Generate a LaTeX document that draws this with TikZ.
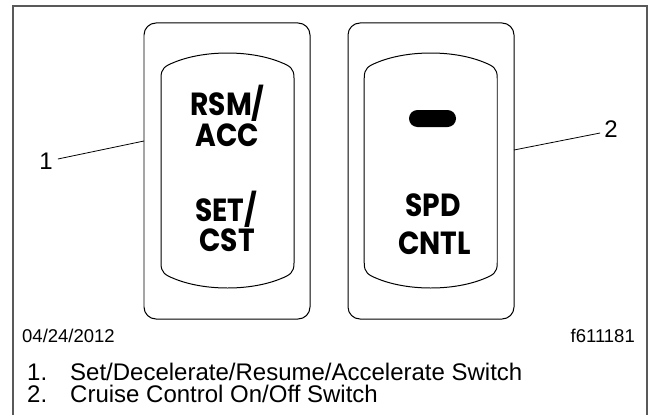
\documentclass[tikz,border=0pt]{standalone}
\usepackage{fontspec}
\setmainfont{Liberation Sans}
\newfontfamily\keyfont{Poppins}[FakeStretch=0.88]
\usetikzlibrary{positioning, calc}

\begin{document}
\begin{tikzpicture}[
		x=1bp, y=1bp,
		% estilos de los interruptores
		switchbox/.style = {draw, line width=1pt, rounded corners=12bp, minimum width=166bp, minimum height=296bp, inner sep=0pt},
		keytext/.style = {font=\keyfont\bfseries\fontsize{32bp}{32bp}\selectfont, inner sep=0pt, anchor=base},
		callout/.style = {font=\fontsize{24bp}{24bp}\selectfont, inner sep=0pt},
		caption/.style = {font=\fontsize{24bp}{24bp}\selectfont, inner sep=0pt, anchor=base west},
		stamp/.style = {font=\fontsize{18.5bp}{18.5bp}\selectfont, inner sep=0pt},
		leader/.style = {line width=0.8pt},
		frameline/.style = {draw=black!65, line width=1.5pt}
		]
		\useasboundingbox (0,0) rectangle (652,415);
		
		% --- MARCO ---
		\draw [frameline] (13,0) |- (647,409) -- (647,0);
		
		% --- INTERRUPTORES ---
		\node [switchbox] (sw_set) at (227,244) {};
		\node [switchbox] (sw_spd) at (431,244) {};
		
		% teclas basculantes
		\foreach \dx in {0,204} {
			\draw [line width=1pt, xshift=\dx] (161,152) -- (161,337)
				.. controls (161,347) and (165,349) .. (175,353)
				.. controls (205,365) and (250,365) .. (280,353)
				.. controls (290,349) and (294,347) .. (294,337)
				-- (294,152)
				.. controls (294,142) and (290,140) .. (280,136)
				.. controls (250,124) and (205,124) .. (175,136)
				.. controls (165,140) and (161,142) .. (161,152) -- cycle;
		}
		
		% leyendas de las teclas
		\node [keytext] (rsm) at (227.5,300) {RSM/};
		\node [keytext] (acc) at (227.5,269) {ACC};
		\node [keytext] (set) at (226,194) {SET/};
		\node [keytext] (cst) at (227,164) {CST};
		\node [fill=black, rounded corners=8.5bp, minimum width=47bp, minimum height=17bp, inner sep=0pt] (led) at (432.5,296.5) {};
		\node [keytext] (spd) at (433,199) {SPD};
		\node [keytext] (cntl) at (434.5,161) {CNTL};
		
		% --- REFERENCIAS ---
		\node [callout] (lbl_1) at (46,254) {1};
		\coordinate (tip_1) at (144,274);
		\draw [leader] ($(lbl_1.east)+(5,2)$) -- (tip_1);
		
		\node [callout] (lbl_2) at (611,286) {2};
		\coordinate (tip_2) at (514,265);
		\draw [leader] ($(lbl_2.west)+(-4,-4)$) -- (tip_2);
		
		% --- PIE ---
		\node [stamp, anchor=base west] (fecha) at (22,72.3) {04/24/2012};
		\node [stamp, anchor=base east] (figid) at (635,72.3) {f611181};
		
		\node [caption] (num_1) at (27,35) {1.};
		\node [caption] (txt_1) at (70,35) {Set/Decelerate/Resume/Accelerate Switch};
		\node [caption] (num_2) at (27,13) {2.};
		\node [caption] (txt_2) at (70,13) {Cruise Control On/Off Switch};
		
	\end{tikzpicture}
\end{document}
